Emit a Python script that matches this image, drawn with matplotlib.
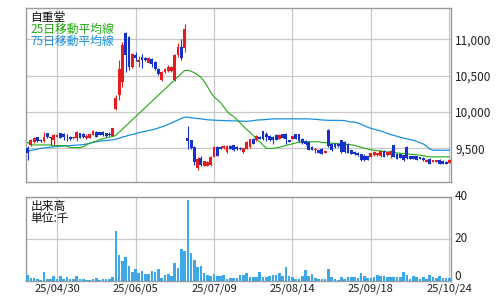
import matplotlib
matplotlib.use("Agg")
import matplotlib.pyplot as plt
import matplotlib.transforms as mtransforms
import numpy as np

plt.rcParams['font.family'] = ['Noto Sans CJK JP', 'DejaVu Sans']

# daily OHLC, 130 trading days (4/17 .. 10/24)
opens = [
    9510, 9546, 9580, 9650, 9615, 9600, 9705, 9650, 9614, 9660,
    9705, 9700, 9660, 9660, 9640, 9640, 9705, 9700, 9640, 9646,
    9685, 9730, 9720, 9730, 9705, 9700, 9675, 10039, 10231, 10413,
    11089, 11030, 10620, 10790, 10690, 10760, 10740, 10680, 10730, 10690,
    10595, 10440, 10550, 10560, 10560, 10436, 10780, 10890, 10880, 9640,
    9610, 9518, 9222, 9367, 9258, 9258, 9267, 9381, 9518, 9518,
    9505, 9450, 9530, 9540, 9518, 9510, 9450, 9495, 9518, 9632,
    9610, 9655, 9733, 9700, 9670, 9655, 9680, 9633, 9692, 9700,
    9610, 9633, 9692, 9692, 9633, 9600, 9587, 9518, 9473, 9473,
    9495, 9441, 9756, 9565, 9565, 9565, 9610, 9587, 9565, 9473,
    9450, 9436, 9418, 9390, 9390, 9382, 9405, 9405, 9390, 9464,
    9405, 9405, 9541, 9427, 9418, 9405, 9518, 9390, 9390, 9390,
    9380, 9370, 9313, 9359, 9313, 9313, 9345, 9327, 9315, 9300]
highs = [
    9525, 9630, 9650, 9660, 9625, 9730, 9710, 9660, 9700, 9690,
    9710, 9710, 9690, 9670, 9660, 9740, 9715, 9710, 9690, 9700,
    9750, 9740, 9730, 9735, 9710, 9720, 9780, 10230, 10710, 10961,
    11100, 11050, 10810, 10825, 10770, 10800, 10760, 10750, 10740, 10700,
    10610, 10560, 10600, 10640, 10630, 10800, 10950, 11010, 11210, 9806,
    9615, 9530, 9380, 9400, 9330, 9320, 9390, 9525, 9530, 9530,
    9545, 9540, 9540, 9550, 9525, 9520, 9510, 9595, 9630, 9640,
    9680, 9665, 9740, 9720, 9680, 9665, 9690, 9690, 9700, 9710,
    9620, 9675, 9700, 9700, 9640, 9610, 9595, 9525, 9500, 9480,
    9505, 9470, 9765, 9575, 9575, 9575, 9620, 9595, 9575, 9480,
    9460, 9445, 9425, 9425, 9400, 9440, 9460, 9440, 9470, 9470,
    9455, 9475, 9550, 9435, 9425, 9410, 9525, 9400, 9395, 9395,
    9385, 9375, 9350, 9365, 9340, 9340, 9350, 9335, 9320, 9350]
lows = [
    9340, 9530, 9570, 9590, 9590, 9590, 9640, 9540, 9545, 9650,
    9640, 9620, 9600, 9620, 9630, 9600, 9640, 9640, 9630, 9640,
    9680, 9650, 9680, 9670, 9660, 9670, 9670, 10025, 10162, 10350,
    10550, 10575, 10600, 10700, 10620, 10600, 10700, 10670, 10620, 10580,
    10510, 10420, 10530, 10550, 10550, 10420, 10760, 10720, 10825, 9495,
    9490, 9267, 9200, 9260, 9250, 9250, 9260, 9375, 9390, 9490,
    9490, 9440, 9490, 9465, 9480, 9480, 9440, 9490, 9510, 9560,
    9600, 9625, 9620, 9600, 9600, 9560, 9610, 9625, 9640, 9560,
    9580, 9625, 9625, 9590, 9565, 9545, 9475, 9475, 9430, 9435,
    9420, 9430, 9520, 9465, 9510, 9520, 9440, 9440, 9430, 9420,
    9410, 9400, 9330, 9330, 9340, 9375, 9400, 9400, 9385, 9375,
    9400, 9360, 9375, 9350, 9365, 9330, 9355, 9350, 9350, 9340,
    9350, 9330, 9305, 9280, 9305, 9305, 9285, 9285, 9285, 9295]
closes = [
    9440, 9614, 9640, 9600, 9595, 9660, 9650, 9635, 9680, 9680,
    9646, 9650, 9650, 9630, 9650, 9730, 9646, 9650, 9675, 9690,
    9740, 9660, 9685, 9680, 9670, 9680, 9775, 10199, 10596, 10916,
    10779, 10620, 10800, 10740, 10710, 10720, 10710, 10740, 10665, 10595,
    10525, 10550, 10590, 10620, 10620, 10790, 10890, 10740, 11140, 9596,
    9505, 9313, 9358, 9267, 9322, 9313, 9381, 9518, 9395, 9495,
    9530, 9530, 9495, 9470, 9486, 9490, 9505, 9587, 9623, 9565,
    9670, 9632, 9632, 9655, 9610, 9610, 9620, 9678, 9647, 9633,
    9590, 9665, 9633, 9600, 9573, 9555, 9482, 9482, 9495, 9441,
    9427, 9464, 9528, 9473, 9519, 9528, 9450, 9450, 9436, 9427,
    9418, 9405, 9336, 9345, 9345, 9436, 9450, 9436, 9464, 9382,
    9450, 9464, 9382, 9359, 9373, 9336, 9360, 9359, 9359, 9345,
    9359, 9336, 9345, 9290, 9336, 9336, 9290, 9290, 9290, 9345]

# moving averages
ma25 = [
    9580, 9546, 9546, 9546, 9546, 9546, 9546, 9546, 9536, 9536,
    9536, 9536, 9536, 9510, 9510, 9510, 9510, 9520, 9546, 9570,
    9585, 9600, 9620, 9630, 9645, 9655, 9660, 9680, 9722, 9765,
    9807, 9850, 9892, 9934, 9977, 10019, 10062, 10104, 10146, 10189,
    10231, 10274, 10316, 10358, 10401, 10443, 10486, 10528, 10570, 10575,
    10560, 10540, 10510, 10480, 10420, 10350, 10270, 10210, 10170, 10130,
    10070, 10010, 9965, 9940, 9895, 9850, 9805, 9760, 9720, 9675,
    9630, 9590, 9545, 9500, 9498, 9498, 9505, 9515, 9525, 9540,
    9550, 9562, 9575, 9585, 9588, 9590, 9590, 9590, 9590, 9590,
    9580, 9578, 9573, 9570, 9567, 9564, 9560, 9556, 9552, 9548,
    9541, 9528, 9514, 9500, 9491, 9482, 9473, 9467, 9461, 9456,
    9450, 9446, 9441, 9436, 9432, 9427, 9423, 9418, 9414, 9410,
    9405, 9397, 9390, 9382, 9382, 9382, 9382, 9382, 9382, 9382]
ma75 = [
    9460, 9470, 9480, 9490, 9500, 9505, 9510, 9515, 9520, 9525,
    9528, 9532, 9535, 9538, 9540, 9542, 9545, 9550, 9560, 9570,
    9582, 9590, 9598, 9603, 9608, 9612, 9615, 9625, 9640, 9655,
    9665, 9680, 9690, 9700, 9715, 9725, 9735, 9745, 9755, 9765,
    9780, 9795, 9810, 9830, 9850, 9870, 9890, 9910, 9929, 9929,
    9920, 9915, 9910, 9905, 9898, 9893, 9890, 9888, 9885, 9883,
    9882, 9880, 9879, 9878, 9876, 9875, 9872, 9870, 9875, 9880,
    9888, 9890, 9893, 9897, 9900, 9905, 9905, 9905, 9905, 9905,
    9905, 9905, 9905, 9905, 9905, 9905, 9905, 9902, 9900, 9895,
    9890, 9887, 9885, 9884, 9884, 9884, 9884, 9880, 9870, 9862,
    9860, 9850, 9830, 9810, 9790, 9775, 9762, 9750, 9740, 9722,
    9705, 9690, 9678, 9665, 9652, 9640, 9630, 9620, 9610, 9595,
    9578, 9560, 9530, 9490, 9473, 9473, 9473, 9473, 9473, 9473]

# volume (thousands)
volume = [
    2.6, 1.4, 1.4, 0.9, 0.4, 4.1, 0.9, 0.9, 2.3, 0.9,
    2.3, 0.6, 1.8, 0.5, 0.9, 2.3, 0.9, 0.9, 0.4, 0.4,
    0.9, 1.3, 0.4, 0.9, 0.9, 0.9, 1.8, 23.8, 12.3, 9.4,
    11.3, 7.0, 4.1, 5.5, 3.6, 4.5, 3.1, 3.1, 4.5, 4.1,
    5.5, 1.3, 2.6, 3.1, 2.3, 8.4, 5.9, 15.1, 14.2, 38.7,
    13.3, 10.0, 6.7, 7.0, 3.6, 2.6, 2.3, 3.1, 2.3, 2.3,
    2.6, 0.9, 1.3, 1.3, 1.3, 2.6, 2.6, 3.6, 1.6, 1.6,
    1.6, 4.1, 1.6, 1.6, 2.1, 2.6, 2.6, 3.6, 2.1, 6.4,
    2.1, 1.6, 0.6, 0.6, 2.1, 5.0, 2.1, 3.0, 1.1, 0.6,
    0.6, 0.6, 5.5, 1.6, 0.6, 0.2, 1.6, 0.6, 1.6, 1.6,
    1.6, 1.1, 3.6, 2.1, 1.1, 1.1, 1.6, 2.6, 2.1, 2.1,
    1.6, 1.6, 1.6, 1.6, 1.6, 4.1, 2.6, 0.6, 2.1, 1.6,
    0.6, 1.6, 0.6, 2.6, 1.6, 1.1, 2.1, 1.1, 1.1, 1.1]

tick_pos = [9, 33, 57, 81, 105, 129]
tick_labels = ['25/04/30', '25/06/05', '25/07/09', '25/08/14', '25/09/18', '25/10/24']
price_ticks = [9500, 10000, 10500, 11000]
vol_ticks = [0, 20, 40]

UP = '#e41e1e'
DOWN = '#1432c8'
MA25_C = '#22aa11'
MA75_C = '#1a8fe0'
VOL_C = '#3ea8e6'
GRID = '#c8c8c8'
FRAME = '#9a9a9a'

fig = plt.figure(figsize=(4.96, 2.96), dpi=100)
ax = fig.add_axes([26/496, 1-182.3/296, 425/496, 174/296])
axv = fig.add_axes([26/496, 1-280.5/296, 425/496, 83.5/296])

x = np.arange(len(closes))
o = np.array(opens, dtype=float)
c = np.array(closes, dtype=float)
colors = np.where(c >= o, UP, DOWN)

ax.plot(x, ma75, color=MA75_C, lw=0.9, zorder=2)
ax.plot(x, ma25, color=MA25_C, lw=0.8, zorder=2)
ax.vlines(x, lows, highs, colors=colors, lw=0.8, zorder=3)
ax.bar(x, np.maximum(np.abs(c - o), 10), 0.86, bottom=np.minimum(o, c),
       color=colors, linewidth=0, zorder=4)

ax.set_xlim(-0.5, len(x) - 0.5)
ax.set_ylim(9032, 11427)
ax.set_xticks(tick_pos)
ax.set_xticklabels([])
ax.set_yticks(price_ticks)
ax.set_yticklabels([f'{t:,}' for t in price_ticks])
ax.yaxis.tick_right()

ax.text(0.01, 0.948, '自重堂', transform=ax.transAxes, va='center', fontsize=8.5, color='#111111')
ax.text(0.01, 0.879, '25日移動平均線', transform=ax.transAxes, va='center', fontsize=8.5, color=MA25_C)
ax.text(0.01, 0.810, '75日移動平均線', transform=ax.transAxes, va='center', fontsize=8.5, color=MA75_C)

axv.bar(x, volume, 0.8, color=VOL_C, linewidth=0, zorder=3)
axv.set_xlim(-0.5, len(x) - 0.5)
axv.set_ylim(0, 40)
axv.set_xticks(tick_pos)
axv.set_xticklabels(tick_labels)
axv.set_yticks(vol_ticks)
axv.set_yticklabels([])
axv.yaxis.tick_right()
# volume scale labels drawn as texts so the "0" can sit a little higher
right_tr = mtransforms.blended_transform_factory(axv.transAxes, axv.transData)
for v in vol_ticks:
    va = 'bottom' if v == 0 else 'center'
    yy = -1.0 if v == 0 else v
    axv.text(1.008, yy, str(v), transform=right_tr, ha='left', va=va,
             fontsize=8.5, color='#222222', clip_on=False)
axv.text(0.01, 0.884, '出来高', transform=axv.transAxes, va='center', fontsize=8.5, color='#111111')
axv.text(0.01, 0.745, '単位:千', transform=axv.transAxes, va='center', fontsize=8.5, color='#111111')

for a in (ax, axv):
    a.grid(True, color=GRID, lw=0.9)
    a.set_axisbelow(True)
    a.tick_params(length=0, labelsize=8.5, colors='#222222', pad=3)
    for s in a.spines.values():
        s.set_color(FRAME)
        s.set_linewidth(1.0)
axv.tick_params(axis='x', pad=2, labelsize=8)

fig.savefig('out.png', dpi=100)
